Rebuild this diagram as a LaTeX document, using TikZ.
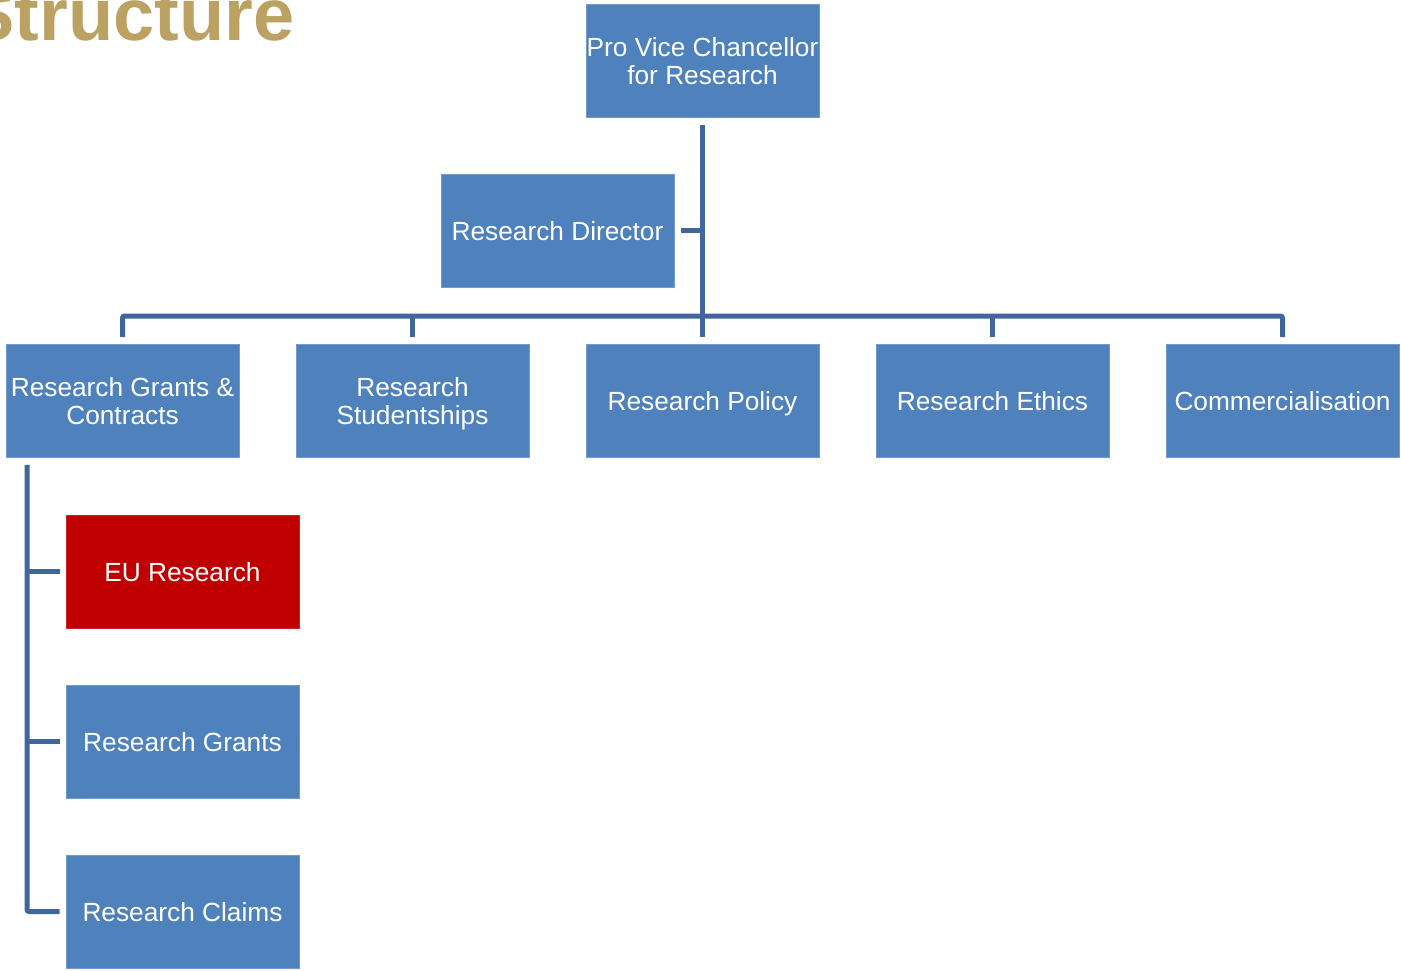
\documentclass[tikz,border=0pt]{standalone}
\usepackage{fontspec}
\setmainfont{Liberation Sans}
\usetikzlibrary{calc}
\definecolor{boxblue}{HTML}{4F81BD}
\definecolor{boxred}{HTML}{C00000}
\definecolor{linecol}{HTML}{41669B}
\definecolor{gold}{HTML}{BBA262}
\tikzset{
  unit/.style={fill=boxblue, draw=boxblue!80!white, line width=0.5pt, text=white,
    minimum width=174.75pt, minimum height=84.75pt, inner sep=0pt, align=center,
    text depth=0pt, font=\fontsize{19.7}{21}\selectfont},
  hot/.style={unit, fill=boxred, draw=boxred!85!white},
  conn/.style={draw=linecol, line width=3.75pt, rounded corners=1.5pt}
}
\begin{document}
\begin{tikzpicture}[x=0.75pt,y=-0.75pt]
\useasboundingbox (0,0) rectangle (1401,970);
\node[anchor=base east, text=gold, font=\fontsize{55.5}{60}\selectfont\bfseries] (title) at (299,41) {Structure};

\node[unit] (pvc) at (702.5,61) {Pro Vice Chancellor\\for Research};
\node[unit] (dir) at (557.5,230.5) {Research Director};
\node[unit] (gc)  at (122.5,401) {Research Grants \&\\Contracts};
\node[unit] (rs)  at (412.5,401) {Research\\Studentships};
\node[unit] (pol) at (702.5,401) {Research Policy};
\node[unit] (eth) at (992.5,401) {Research Ethics};
\node[unit] (com) at (1282.5,401) {Commercialisation};
\node[hot]  (eu)  at (182.5,571.5) {EU Research};
\node[unit] (rg)  at (182.5,741.5) {Research Grants};
\node[unit] (rc)  at (182.5,911.5) {Research Claims};

\coordinate (bus) at (702.5,316);
\coordinate (lx) at (27,0);

\draw[conn] ($(gc.north)+(0,-7)$) |- (bus) -| ($(com.north)+(0,-7)$);
\draw[conn] ($(pvc.south)+(0,7)$) -- ($(pol.north)+(0,-7)$);
\draw[conn] ($(rs.north)+(0,-7)$) -- (rs.north |- bus);
\draw[conn] ($(eth.north)+(0,-7)$) -- (eth.north |- bus);
\draw[conn] ($(dir.east)+(7,0)$) -- (dir.east -| bus);

\draw[conn] ($(gc.south -| lx)+(0,7)$) |- ($(rc.west)+(-6,0)$);
\draw[conn] (eu.west -| lx) -- ($(eu.west)+(-6,0)$);
\draw[conn] (rg.west -| lx) -- ($(rg.west)+(-6,0)$);
\end{tikzpicture}
\end{document}
